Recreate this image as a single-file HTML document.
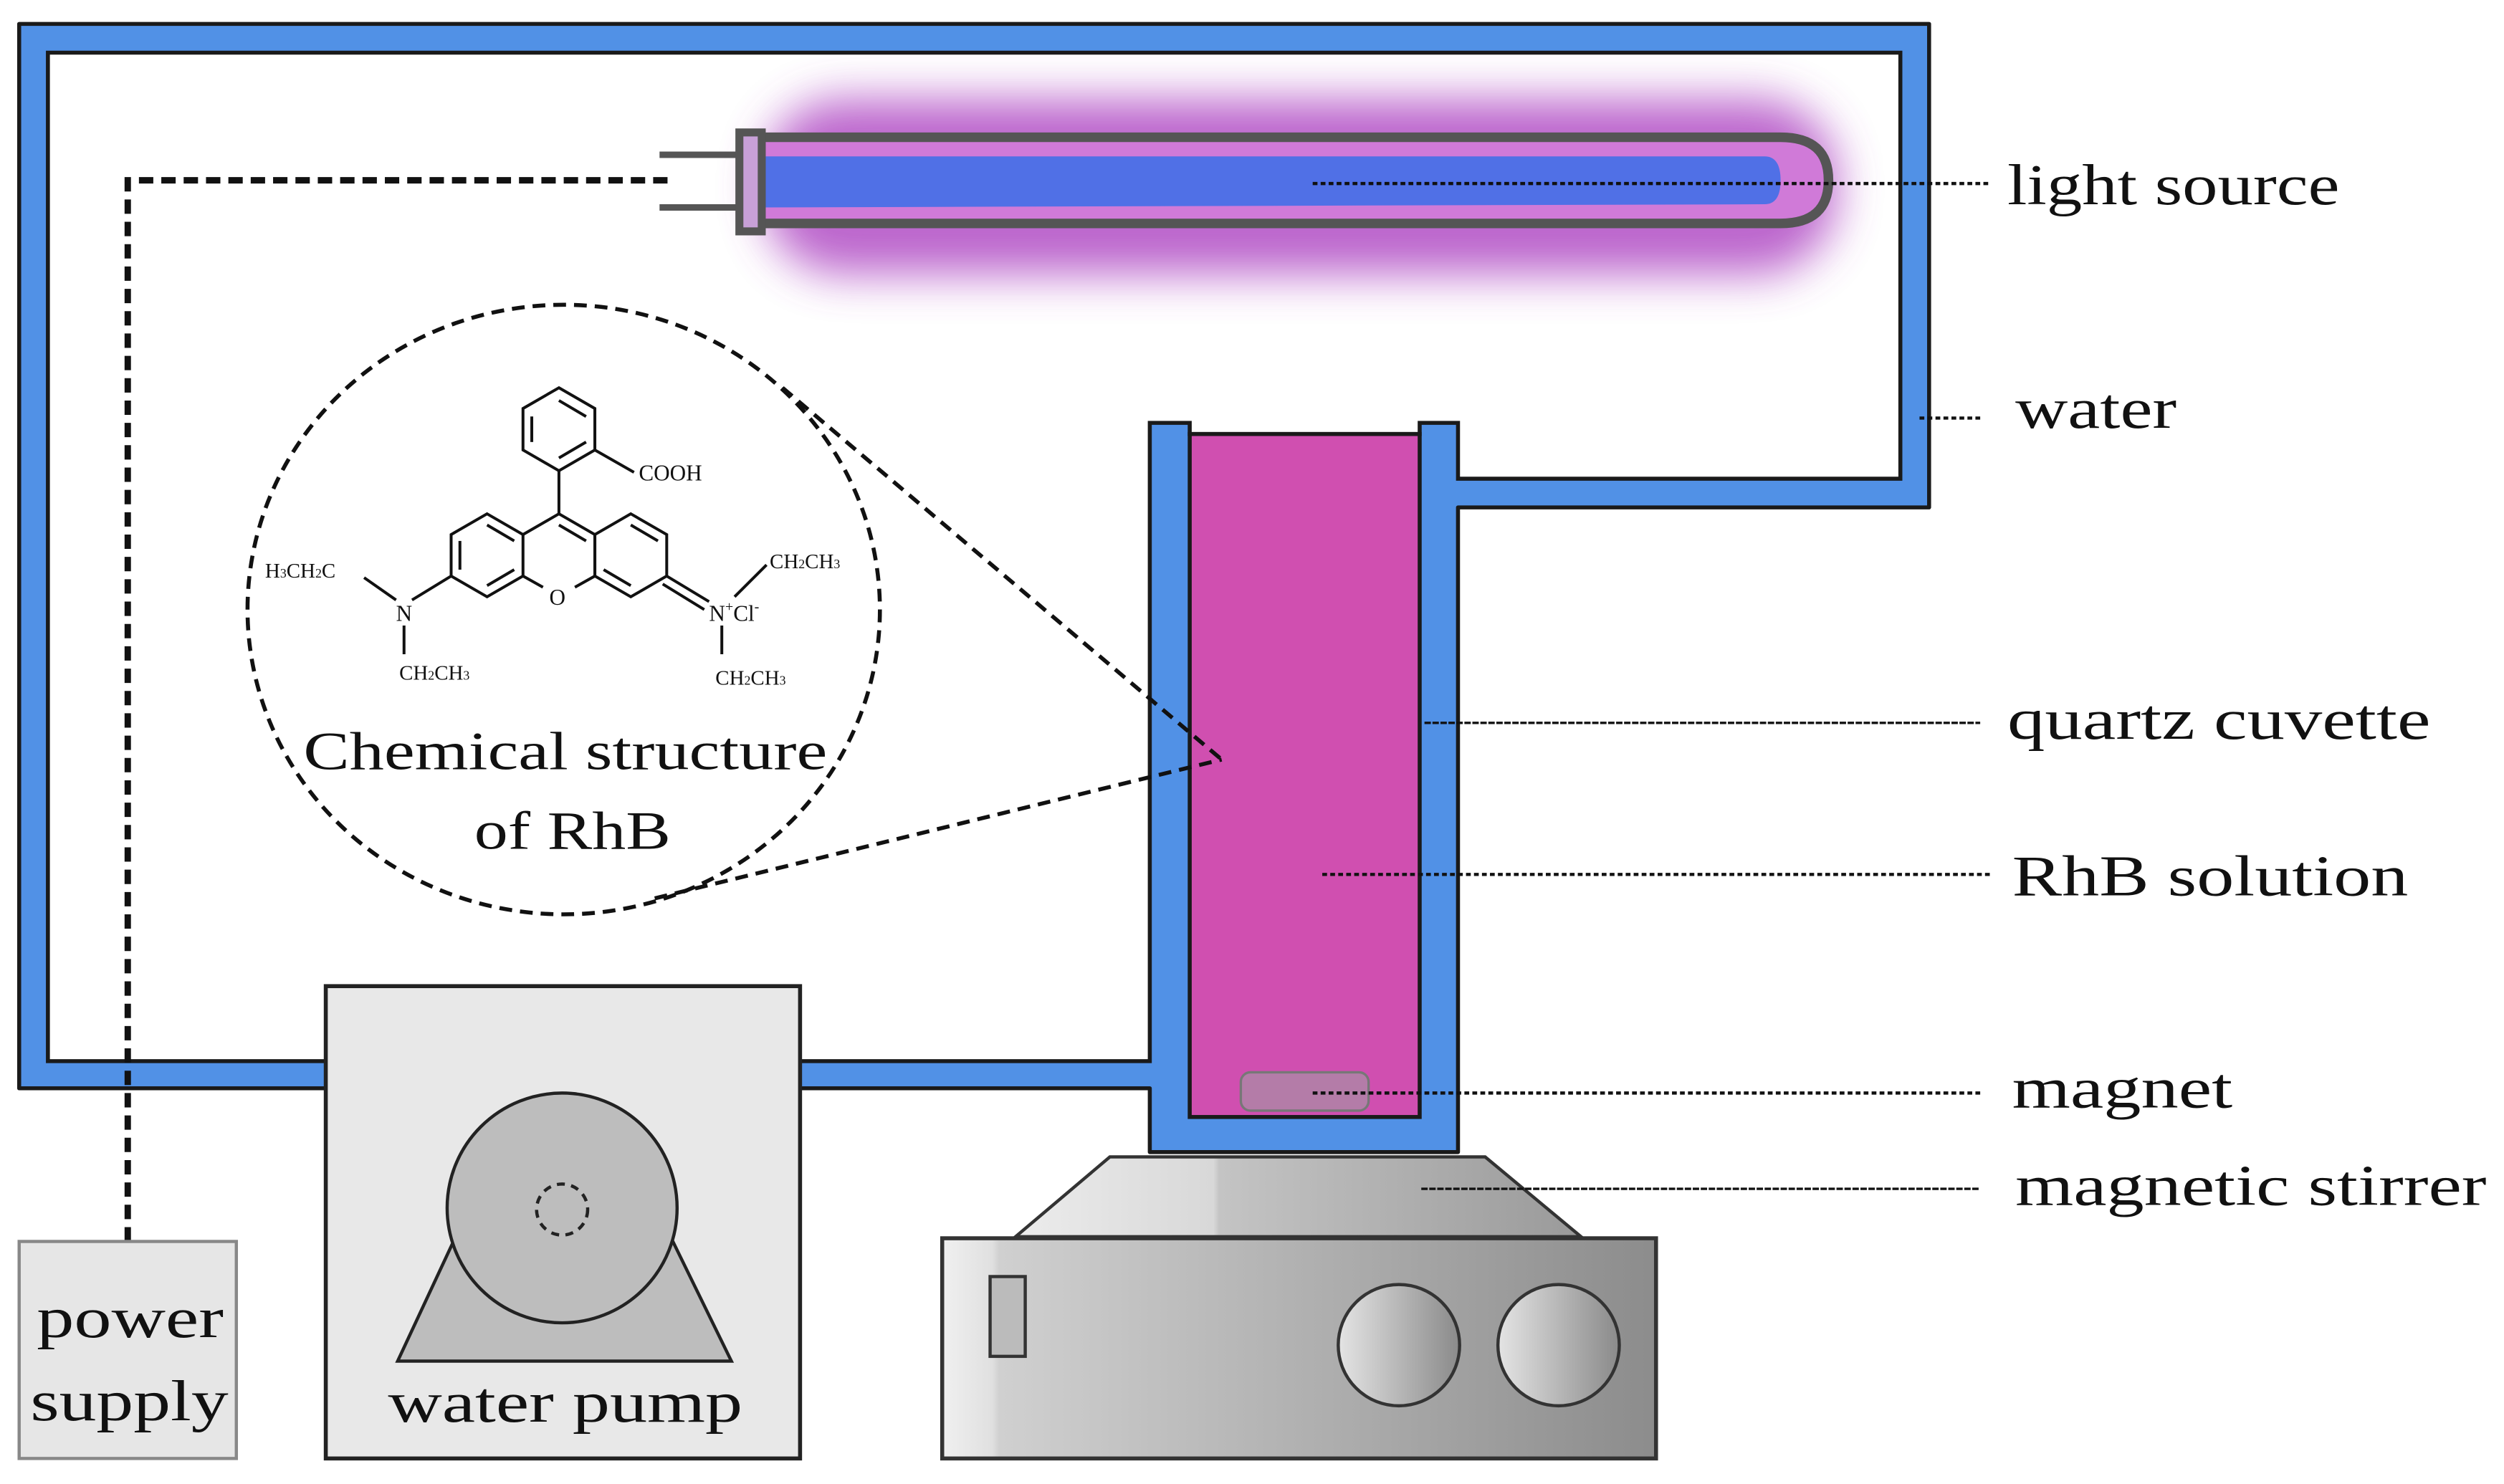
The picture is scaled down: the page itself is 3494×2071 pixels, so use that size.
<!DOCTYPE html>
<html><head><meta charset="utf-8"><style>
html,body{margin:0;padding:0;background:#fff;}
svg{display:block;}
text{font-family:"Liberation Serif",serif;fill:#111;}
</style></head><body>
<svg width="3494" height="2071" viewBox="0 0 1568 930" preserveAspectRatio="none" xmlns="http://www.w3.org/2000/svg">
<defs>
<filter id="blur" x="-20%" y="-100%" width="140%" height="300%"><feGaussianBlur stdDeviation="14"/></filter>
<linearGradient id="gtop" x1="0" x2="1" y1="0" y2="0"><stop offset="0" stop-color="#ececec"/><stop offset="0.35" stop-color="#d8d8d8"/><stop offset="0.36" stop-color="#c4c4c4"/><stop offset="1" stop-color="#9a9a9a"/></linearGradient>
<linearGradient id="gbody" x1="0" x2="1" y1="0" y2="0"><stop offset="0" stop-color="#f0f0f0"/><stop offset="0.07" stop-color="#e0e0e0"/><stop offset="0.08" stop-color="#d0d0d0"/><stop offset="1" stop-color="#8c8c8c"/></linearGradient>
<linearGradient id="gknob" x1="0" x2="1" y1="0" y2="0"><stop offset="0" stop-color="#e4e4e4"/><stop offset="1" stop-color="#8a8a8a"/></linearGradient>
</defs>

<!-- glow -->
<rect x="478" y="62" width="672" height="110" rx="50" fill="#b04cc4" opacity="0.85" filter="url(#blur)"/>

<!-- water pipe -->
<polygon points="12,15 1208,15 1208,318 913,318 913,722 720,722 720,682 12,682" fill="#5191e6" stroke="#1a1a1a" stroke-width="2.5" stroke-linejoin="round"/>
<polygon points="30,33 1190,33 1190,300 913,300 913,265 889,265 889,272 745,272 745,265 720,265 720,665 30,665" fill="#fff" stroke="#1a1a1a" stroke-width="2.5"/>
<!-- glow again on top of white -->
<rect x="478" y="62" width="672" height="110" rx="50" fill="#b04cc4" opacity="0.85" filter="url(#blur)"/>

<!-- lamp -->
<line x1="413" y1="97" x2="463" y2="97" stroke="#555" stroke-width="4"/>
<line x1="413" y1="130" x2="463" y2="130" stroke="#555" stroke-width="4"/>
<path d="M475,86 L1115,86 Q1145,86 1145,113 Q1145,140 1115,140 L475,140" fill="#d07ad8" stroke="#555" stroke-width="6"/>
<path d="M475,98 L1105,98 Q1115,98 1115,113 Q1115,128 1105,128 L475,130 Z" fill="#5070e6"/>
<rect x="463" y="83" width="14" height="62" fill="#c8a0d8" stroke="#555" stroke-width="5"/>

<!-- cuvette contents -->
<rect x="745" y="272" width="144" height="428" fill="#d04fb0" stroke="#1a1a1a" stroke-width="2.5"/>
<rect x="777" y="672" width="80" height="24" rx="6" fill="#b47ca8" stroke="#777" stroke-width="1.5"/>

<!-- power line -->
<polyline points="418,113 80,113 80,812" fill="none" stroke="#111" stroke-width="4" stroke-dasharray="9,5"/>
<rect x="12" y="778" width="136" height="136" fill="#e6e6e6" stroke="#888" stroke-width="2"/>
<text x="23" y="838" font-size="36" textLength="117" lengthAdjust="spacingAndGlyphs">power</text>
<text x="19" y="890" font-size="36" textLength="124" lengthAdjust="spacingAndGlyphs">supply</text>

<!-- pump -->
<rect x="204" y="618" width="297" height="296" fill="#e8e8e8" stroke="#222" stroke-width="2.5"/>
<polygon points="249,853 458,853 415,765 290,765" fill="#bdbdbd" stroke="#222" stroke-width="2"/>
<circle cx="352" cy="757" r="72" fill="#bdbdbd" stroke="#222" stroke-width="2"/>
<circle cx="352" cy="758" r="16" fill="none" stroke="#222" stroke-width="2" stroke-dasharray="5,4"/>
<text x="243" y="891" font-size="36" textLength="222" lengthAdjust="spacingAndGlyphs">water pump</text>

<!-- stirrer -->
<polygon points="636,775 990,775 930,725 695,725" fill="url(#gtop)" stroke="#333" stroke-width="2"/>
<rect x="590" y="776" width="447" height="138" fill="url(#gbody)" stroke="#333" stroke-width="2.5"/>
<rect x="620" y="800" width="22" height="50" fill="#bbb" stroke="#333" stroke-width="2"/>
<circle cx="876" cy="843" r="38" fill="url(#gknob)" stroke="#333" stroke-width="2"/>
<circle cx="976" cy="843" r="38" fill="url(#gknob)" stroke="#333" stroke-width="2"/>

<!-- magnify circle -->
<ellipse cx="353" cy="382" rx="198" ry="191" fill="none" stroke="#111" stroke-width="2.5" stroke-dasharray="8,5"/>
<line x1="490" y1="243" x2="765" y2="476" stroke="#111" stroke-width="2.5" stroke-dasharray="8,5"/>
<line x1="410" y1="563" x2="765" y2="476" stroke="#111" stroke-width="2.5" stroke-dasharray="8,5"/>

<!-- chemical structure -->
<g stroke="#111" stroke-width="1.8" fill="none">
<polygon points="350,243 372.5,256 372.5,282 350,295 327.5,282 327.5,256"/>
<line x1="350" y1="251" x2="367" y2="261"/><line x1="367" y1="277" x2="350" y2="287"/><line x1="333" y1="261" x2="333" y2="277"/>
<line x1="372.5" y1="282" x2="397" y2="296"/>
<line x1="350" y1="295" x2="350" y2="322"/>
<polygon points="305,322 327.5,335 327.5,361 305,374 282.5,361 282.5,335"/>
<polyline points="327.5,335 350,322 372.5,335 372.5,361 360,368"/>
<polyline points="327.5,361 340,368"/>
<polygon points="395,322 417.5,335 417.5,361 395,374 372.5,361 372.5,335"/>
<line x1="288" y1="339" x2="288" y2="357"/><line x1="305" y1="329" x2="322" y2="339"/><line x1="305" y1="367" x2="322" y2="357"/>
<line x1="350" y1="329" x2="367" y2="339"/>
<line x1="395" y1="329" x2="412" y2="339"/><line x1="378" y1="357" x2="395" y2="367"/>
<line x1="282.5" y1="361" x2="258" y2="376"/>
<line x1="228" y1="362" x2="248" y2="376"/>
<line x1="253" y1="392" x2="253" y2="410"/>
<line x1="417.5" y1="361" x2="444" y2="377"/><line x1="415" y1="366" x2="441" y2="382"/>
<line x1="460" y1="374" x2="480" y2="354"/>
<line x1="452" y1="392" x2="452" y2="410"/>
</g>
<g font-size="14">
<text x="400" y="301">COOH</text>
<text x="166" y="362" font-size="13">H<tspan font-size="8">3</tspan>CH<tspan font-size="8">2</tspan>C</text>
<text x="248" y="389">N</text>
<text x="250" y="426" font-size="13">CH<tspan font-size="8">2</tspan>CH<tspan font-size="8">3</tspan></text>
<text x="344" y="379">O</text>
<text x="444" y="389">N<tspan font-size="9" dy="-6">+</tspan><tspan dy="6">Cl</tspan><tspan font-size="9" dy="-6">-</tspan></text>
<text x="482" y="356" font-size="13">CH<tspan font-size="8">2</tspan>CH<tspan font-size="8">3</tspan></text>
<text x="448" y="429" font-size="13">CH<tspan font-size="8">2</tspan>CH<tspan font-size="8">3</tspan></text>
</g>
<text x="190" y="482" font-size="34" textLength="328" lengthAdjust="spacingAndGlyphs">Chemical structure</text>
<text x="297" y="532" font-size="34" textLength="123" lengthAdjust="spacingAndGlyphs">of RhB</text>

<!-- leader lines -->
<g stroke="#111" stroke-width="2" fill="none">
<line x1="822" y1="115" x2="1245" y2="115" stroke-dasharray="3,2"/>
<line x1="1202" y1="262" x2="1242" y2="262" stroke-dasharray="3,2"/>
<line x1="892" y1="453" x2="1240" y2="453" stroke-dasharray="4,1" stroke-width="1.5"/>
<line x1="828" y1="548" x2="1248" y2="548" stroke-dasharray="3,2"/>
<line x1="822" y1="685" x2="1240" y2="685" stroke-dasharray="3,2"/>
<line x1="890" y1="745" x2="1240" y2="745" stroke-dasharray="4,1" stroke-width="1.5"/>
</g>
<g font-size="36">
<text x="1257" y="128" textLength="208" lengthAdjust="spacingAndGlyphs">light source</text>
<text x="1262" y="268" textLength="101" lengthAdjust="spacingAndGlyphs">water</text>
<text x="1257" y="463" textLength="265" lengthAdjust="spacingAndGlyphs">quartz cuvette</text>
<text x="1260" y="561" textLength="248" lengthAdjust="spacingAndGlyphs">RhB solution</text>
<text x="1260" y="694" textLength="138" lengthAdjust="spacingAndGlyphs">magnet</text>
<text x="1262" y="755" textLength="295" lengthAdjust="spacingAndGlyphs">magnetic stirrer</text>
</g>
</svg>
</body></html>
